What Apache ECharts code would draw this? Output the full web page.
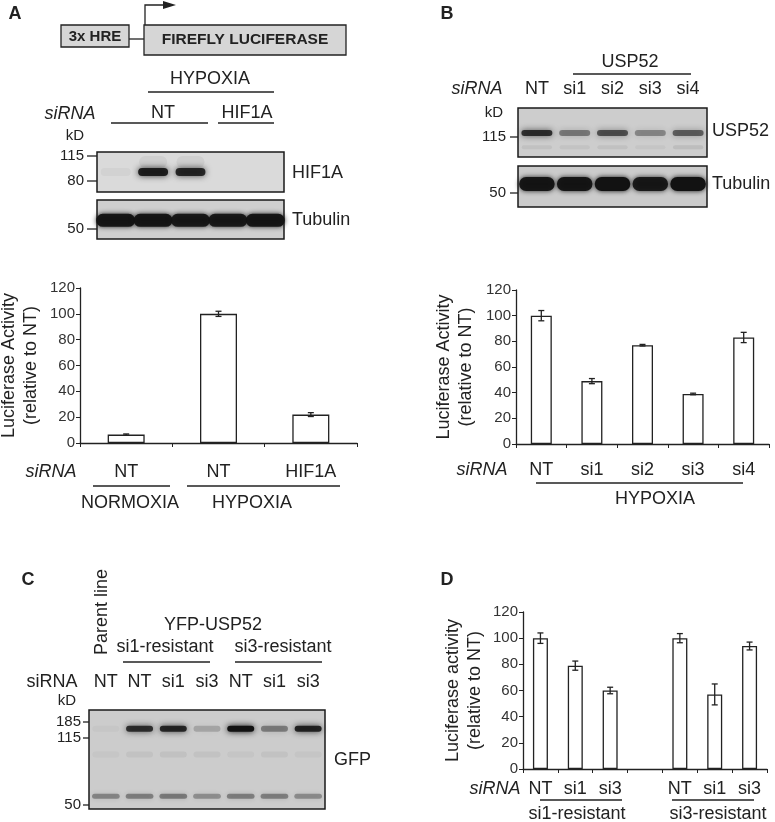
<!DOCTYPE html>
<html>
<head>
<meta charset="utf-8">
<script src="https://cdn.jsdelivr.net/npm/echarts@6/dist/echarts.min.js"></script>
<style>
  html, body { margin: 0; padding: 0; background: #fff; }
  #main { width: 775px; height: 822px; }
</style>
</head>
<body>
<div id="main"></div>
<script>
const chartDom = document.getElementById('main');
const myChart = echarts.init(chartDom);

const FONT = '"Liberation Sans", Arial, sans-serif';
const INK = '#222';

// panel A luciferase
const aCategories = ['NT', 'NT', 'HIF1A'];
const aValues = [6.5, 100, 22];
const aErrors = [0.5, 2, 1.5];

// panel B luciferase
const bCategories = ['NT', 'si1', 'si2', 'si3', 'si4'];
const bValues = [100, 49, 77, 39, 83];
const bErrors = [4, 2, 0.6, 0.6, 4];

// panel D luciferase (empty slot between the two cell lines)
const dCategories = ['NT', 'si1', 'si3', '', 'NT', 'si1', 'si3'];
const dValues = [100, 79, 60, null, 100, 57, 94];
const dErrors = [4, 3.5, 2.5, null, 3.5, 8, 3];

// blot band intensities per lane (0..1)
const aLanes = ['1', '2', '3', '4', '5'];
const hif1aBands = [0.04, 0.9, 0.85, 0, 0];
const hif1aSmear = [0, 0.05, 0.05, 0, 0];
const tubulinABands = [0.95, 0.95, 0.92, 0.92, 0.95];

const bLanes = ['NT', 'si1', 'si2', 'si3', 'si4'];
const usp52Bands = [0.8, 0.42, 0.62, 0.35, 0.55];
const usp52Faint = [0.06, 0.05, 0.06, 0.04, 0.08];
const tubulinBBands = [0.95, 0.95, 1, 0.92, 1];

const cLanes = ['NT', 'NT', 'si1', 'si3', 'NT', 'si1', 'si3'];
const gfpBands = [0.03, 0.8, 0.85, 0.2, 1, 0.4, 0.88];
const gfpMid = [0.03, 0.05, 0.06, 0.05, 0.04, 0.05, 0.04];
const gfpLow = [0.35, 0.38, 0.4, 0.3, 0.38, 0.38, 0.32];

function blotSeries(idx, data, yPos, bandH, widthFrac, blur) {
    return {
        type: 'custom',
        xAxisIndex: idx,
        yAxisIndex: idx,
        silent: true,
        data: data.map(function (v, i) { return [i, v]; }),
        renderItem: function (params, api) {
            const k = api.value(1);
            if (!k) return null;
            const c = api.coord([api.value(0), yPos]);
            const w = api.size([1, 0])[0] * widthFrac;
            const col = 'rgba(18,18,18,' + k + ')';
            return {
                type: 'rect',
                shape: {x: c[0] - w / 2, y: c[1] - bandH / 2, width: w, height: bandH, r: bandH / 2},
                style: {fill: col, shadowBlur: blur, shadowColor: col}
            };
        }
    };
}

function errorSeries(idx, values, errors) {
    const data = [];
    values.forEach(function (v, i) {
        if (v != null) data.push([i, v - errors[i], v + errors[i]]);
    });
    return {
        type: 'custom',
        xAxisIndex: idx,
        yAxisIndex: idx,
        silent: true,
        z: 5,
        data: data,
        renderItem: function (params, api) {
            const lo = api.coord([api.value(0), api.value(1)]);
            const hi = api.coord([api.value(0), api.value(2)]);
            const st = {stroke: INK, lineWidth: 1.3};
            return {
                type: 'group',
                children: [
                    {type: 'line', shape: {x1: lo[0], y1: lo[1], x2: hi[0], y2: hi[1]}, style: st},
                    {type: 'line', shape: {x1: lo[0] - 3, y1: lo[1], x2: lo[0] + 3, y2: lo[1]}, style: st},
                    {type: 'line', shape: {x1: hi[0] - 3, y1: hi[1], x2: hi[0] + 3, y2: hi[1]}, style: st}
                ]
            };
        }
    };
}

function barX(idx, cats, margin) {
    return {
        type: 'category', gridIndex: idx, data: cats,
        axisLine: {lineStyle: {color: INK, width: 1.3}},
        axisTick: {show: true, interval: 0, length: 4, lineStyle: {color: INK}},
        axisLabel: {interval: 0, margin: margin, fontSize: 18, fontFamily: FONT, color: INK}
    };
}

function barY(idx, title, gap) {
    return {
        type: 'value', gridIndex: idx, min: 0, max: 120, interval: 20,
        name: title, nameLocation: 'middle', nameRotate: 90, nameGap: gap,
        nameTextStyle: {fontSize: 18, fontFamily: FONT, color: INK, lineHeight: 22},
        axisLine: {show: true, lineStyle: {color: INK, width: 1.3}},
        axisTick: {show: true, length: 4, lineStyle: {color: INK}},
        splitLine: {show: false},
        axisLabel: {fontSize: 15, fontFamily: FONT, color: '#333', margin: 5}
    };
}

function blotX(idx, lanes, showLabels, margin) {
    return {
        type: 'category', gridIndex: idx, data: lanes, position: 'top',
        axisLine: {show: false}, axisTick: {show: false},
        axisLabel: {show: showLabels, interval: 0, margin: margin, fontSize: 18, fontFamily: FONT, color: INK}
    };
}

function blotY(idx) {
    return {type: 'value', gridIndex: idx, min: 0, max: 1, inverse: true, show: false, splitLine: {show: false}};
}

function barGrid(left, top, width, height) {
    return {left: left, top: top, width: width, height: height, outerBoundsMode: 'none', containLabel: false};
}

function blotGrid(left, top, width, height, bg) {
    return {left: left, top: top, width: width, height: height, show: true, outerBoundsMode: 'none',
        backgroundColor: bg, borderColor: '#1a1a1a', borderWidth: 1.5};
}

const barStyle = {color: '#fff', borderColor: INK, borderWidth: 1.3};

function txt(x, y, text, opt) {
    opt = opt || {};
    return {
        type: 'text', x: x, y: y, rotation: opt.rot || 0, silent: true,
        style: {
            text: text, fill: INK,
            font: (opt.style || '') + ' ' + (opt.weight || '') + ' ' + (opt.size || 18) + 'px ' + FONT,
            textAlign: opt.align || 'center', textVerticalAlign: 'middle'
        }
    };
}
function ln(x1, y1, x2, y2, w) {
    return {type: 'line', silent: true, shape: {x1: x1, y1: y1, x2: x2, y2: y2}, style: {stroke: INK, lineWidth: w || 1.3}};
}

const graphics = [
    // panel letters
    txt(15, 14, 'A', {weight: 'bold'}),
    txt(447, 14, 'B', {weight: 'bold'}),
    txt(28, 580, 'C', {weight: 'bold'}),
    txt(447, 580, 'D', {weight: 'bold'}),

    // reporter construct
    {type: 'rect', silent: true, shape: {x: 61, y: 25, width: 68, height: 22}, style: {fill: '#d6d6d6', stroke: INK, lineWidth: 1.3}},
    {type: 'rect', silent: true, shape: {x: 144, y: 25, width: 202, height: 30}, style: {fill: '#d6d6d6', stroke: INK, lineWidth: 1.3}},
    txt(95, 37, '3x HRE', {weight: 'bold', size: 15}),
    txt(245, 40, 'FIREFLY LUCIFERASE', {weight: 'bold', size: 15.5}),
    ln(129, 39, 144, 39),
    {type: 'polyline', silent: true, shape: {points: [[145, 25], [145, 5], [164, 5]]}, style: {stroke: INK, lineWidth: 1.3, fill: null}},
    {type: 'polygon', silent: true, shape: {points: [[163, 1], [176, 5], [163, 9]]}, style: {fill: INK}},

    // panel A blot header
    txt(210, 79, 'HYPOXIA'),
    ln(148, 92, 274, 92),
    txt(70, 114, 'siRNA', {style: 'italic'}),
    txt(163, 113, 'NT'),
    txt(247, 113, 'HIF1A'),
    ln(111, 123, 208, 123),
    ln(218, 123, 274, 123),
    txt(75, 136, 'kD', {size: 15}),
    txt(84, 156, '115', {size: 15, align: 'right'}), ln(87, 156, 97, 156),
    txt(84, 181, '80', {size: 15, align: 'right'}), ln(87, 181, 97, 181),
    txt(84, 229, '50', {size: 15, align: 'right'}), ln(87, 229, 97, 229),
    txt(292, 173, 'HIF1A', {align: 'left'}),
    txt(292, 220, 'Tubulin', {align: 'left'}),

    // panel A bar chart footer
    txt(51, 472, 'siRNA', {style: 'italic'}),
    ln(93, 486, 170, 486),
    ln(187, 486, 340, 486),
    txt(130, 503, 'NORMOXIA'),
    txt(252, 503, 'HYPOXIA'),

    // panel B blot header
    txt(630, 62, 'USP52'),
    ln(573, 74, 691, 74),
    txt(477, 89, 'siRNA', {style: 'italic'}),
    txt(494, 113, 'kD', {size: 15}),
    txt(506, 137, '115', {size: 15, align: 'right'}), ln(510, 137, 518, 137),
    txt(506, 193, '50', {size: 15, align: 'right'}), ln(510, 193, 518, 193),
    txt(712, 131, 'USP52', {align: 'left'}),
    txt(712, 184, 'Tubulin', {align: 'left'}),

    // panel B bar chart footer
    txt(482, 470, 'siRNA', {style: 'italic'}),
    ln(536, 483, 743, 483),
    txt(655, 499, 'HYPOXIA'),

    // panel C blot header
    txt(102, 612, 'Parent line', {rot: Math.PI / 2}),
    txt(213, 625, 'YFP-USP52'),
    txt(165, 647, 'si1-resistant'),
    txt(283, 647, 'si3-resistant'),
    ln(123, 662, 210, 662),
    ln(235, 662, 322, 662),
    txt(52, 682, 'siRNA'),
    txt(67, 701, 'kD', {size: 15}),
    txt(81, 722, '185', {size: 15, align: 'right'}), ln(83, 722, 89, 722),
    txt(81, 738, '115', {size: 15, align: 'right'}), ln(83, 738, 89, 738),
    txt(81, 805, '50', {size: 15, align: 'right'}), ln(83, 805, 89, 805),
    txt(334, 760, 'GFP', {align: 'left'}),

    // panel D footer
    txt(495, 789, 'siRNA', {style: 'italic'}),
    ln(540, 800, 622, 800),
    ln(672, 800, 754, 800),
    txt(577, 814, 'si1-resistant'),
    txt(718, 814, 'si3-resistant')
];

const yTitle = 'Luciferase Activity\n(relative to NT)';
const yTitleD = 'Luciferase activity\n(relative to NT)';

const option = {
    backgroundColor: '#fff',
    animation: false,
    grid: [
        barGrid(80, 288, 277, 155),                      // 0 A bars
        barGrid(516, 290, 253, 154),                     // 1 B bars
        barGrid(523, 612, 244, 157),                     // 2 D bars
        blotGrid(97, 152, 187, 40, '#dadada'),           // 3 A HIF1A
        blotGrid(97, 200, 187, 39, '#cfcfcf'),           // 4 A tubulin
        blotGrid(518, 108, 189, 49, '#cdcdcd'),          // 5 B USP52
        blotGrid(518, 166, 189, 41, '#cbcbcb'),          // 6 B tubulin
        blotGrid(89, 710, 236, 99, '#cccccc')            // 7 C GFP
    ],
    xAxis: [
        barX(0, aCategories, 20),
        barX(1, bCategories, 17),
        barX(2, dCategories, 11),
        blotX(3, aLanes, false, 0),
        blotX(4, aLanes, false, 0),
        blotX(5, bLanes, true, 10),
        blotX(6, bLanes, false, 0),
        blotX(7, cLanes, true, 19)
    ],
    yAxis: [
        barY(0, yTitle, 38),
        barY(1, yTitle, 39),
        barY(2, yTitleD, 37),
        blotY(3), blotY(4), blotY(5), blotY(6), blotY(7)
    ],
    series: [
        {type: 'bar', xAxisIndex: 0, yAxisIndex: 0, data: aValues, barWidth: 37, itemStyle: barStyle, silent: true},
        errorSeries(0, aValues, aErrors),
        {type: 'bar', xAxisIndex: 1, yAxisIndex: 1, data: bValues, barWidth: 21, itemStyle: barStyle, silent: true},
        errorSeries(1, bValues, bErrors),
        {type: 'bar', xAxisIndex: 2, yAxisIndex: 2, data: dValues, barWidth: 15, itemStyle: barStyle, silent: true},
        errorSeries(2, dValues, dErrors),

        blotSeries(3, hif1aSmear, 0.25, 12, 0.75, 8),
        blotSeries(3, hif1aBands, 0.5, 8, 0.8, 6),
        blotSeries(4, tubulinABands, 0.52, 13, 1.04, 5),
        blotSeries(5, usp52Bands, 0.51, 6, 0.82, 6),
        blotSeries(5, usp52Faint, 0.8, 4, 0.8, 5),
        blotSeries(6, tubulinBBands, 0.44, 14, 0.94, 5),
        blotSeries(7, gfpBands, 0.19, 6, 0.8, 6),
        blotSeries(7, gfpMid, 0.45, 6, 0.8, 6),
        blotSeries(7, gfpLow, 0.87, 5, 0.82, 5)
    ],
    graphic: graphics
};

myChart.setOption(option);
</script>
</body>
</html>
